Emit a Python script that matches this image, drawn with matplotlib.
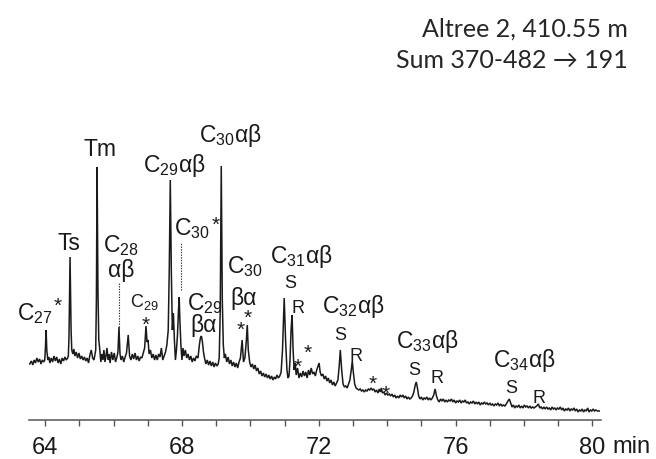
import matplotlib
matplotlib.use("Agg")
import matplotlib.pyplot as plt

plt.rcParams["font.family"] = ["Liberation Sans", "DejaVu Sans"]
plt.rcParams["mathtext.fontset"] = "custom"
plt.rcParams["mathtext.rm"] = "Liberation Sans"
plt.rcParams["mathtext.default"] = "regular"

# m/z 191 trace: retention time (min) and detector response (arbitrary units)
rt = [63.55, 63.60, 63.64, 63.68, 63.72, 63.76, 63.80, 63.84, 63.88, 63.92, 63.96,
      63.99, 64.01, 64.03, 64.05, 64.08, 64.11, 64.14, 64.18, 64.22, 64.26, 64.30,
      64.34, 64.38, 64.42, 64.46, 64.50, 64.54, 64.58, 64.62, 64.66,
      64.68, 64.70, 64.73, 64.76, 64.78, 64.81, 64.84, 64.87, 64.91, 64.95, 64.99,
      65.03, 65.07, 65.11, 65.15, 65.19, 65.23, 65.27, 65.31, 65.35, 65.39, 65.43, 65.46,
      65.48, 65.50, 65.52, 65.545, 65.57, 65.60, 65.63, 65.66, 65.69, 65.72, 65.75,
      65.78, 65.81, 65.84, 65.87, 65.90, 65.94, 65.98, 66.02, 66.06, 66.10,
      66.13, 66.16, 66.19, 66.22, 66.26, 66.30, 66.34, 66.38, 66.43, 66.47, 66.51,
      66.55, 66.59, 66.63, 66.67, 66.71, 66.75, 66.79, 66.83, 66.87, 66.91,
      66.95, 66.98, 67.01, 67.04, 67.08, 67.12, 67.16, 67.20, 67.24, 67.28, 67.32,
      67.36, 67.40, 67.44, 67.48, 67.52, 67.56, 67.60, 67.63,
      67.66, 67.69, 67.72, 67.75, 67.78, 67.81, 67.84, 67.87, 67.90, 67.92, 67.94,
      67.97, 68.00, 68.03, 68.06, 68.10, 68.14, 68.18, 68.22, 68.26, 68.30, 68.34,
      68.38, 68.42, 68.47, 68.51, 68.54, 68.57, 68.60, 68.63, 68.66, 68.70, 68.74,
      68.78, 68.82, 68.86, 68.90, 68.94, 68.98, 69.02, 69.06, 69.09, 69.12,
      69.15, 69.18, 69.21, 69.24, 69.27, 69.31, 69.35, 69.39, 69.43, 69.47, 69.51,
      69.55, 69.59, 69.63, 69.67, 69.71,
      69.76, 69.80, 69.84, 69.88, 69.91, 69.94, 69.98, 70.02, 70.06, 70.10, 70.14,
      70.18, 70.22, 70.26, 70.30, 70.34, 70.38, 70.42, 70.46, 70.50, 70.54, 70.58,
      70.62, 70.66, 70.70, 70.74, 70.78, 70.82, 70.86, 70.90, 70.94,
      70.99, 71.03, 71.07, 71.10, 71.13, 71.16, 71.19, 71.22, 71.25, 71.28, 71.31,
      71.34, 71.38, 71.42, 71.46, 71.50, 71.54, 71.58, 71.62, 71.66, 71.70, 71.74,
      71.78, 71.82, 71.86, 71.90, 71.94, 71.98, 72.01, 72.04, 72.08, 72.12, 72.16,
      72.20, 72.24, 72.28, 72.32, 72.36, 72.40, 72.44, 72.48, 72.52, 72.56, 72.60,
      72.63, 72.67, 72.71, 72.75, 72.79, 72.83, 72.87, 72.91, 72.95, 72.98, 73.01,
      73.05, 73.09, 73.13, 73.17, 73.21, 73.25, 73.29, 73.33, 73.37, 73.41, 73.45,
      73.49, 73.53, 73.57, 73.61, 73.65, 73.69, 73.73, 73.77, 73.80, 73.83, 73.86,
      73.90, 73.94, 73.98, 74.02, 74.06, 74.10, 74.14, 74.18, 74.22, 74.26, 74.30,
      74.34, 74.38, 74.42, 74.46, 74.50, 74.54, 74.58, 74.62, 74.66, 74.70, 74.74,
      74.78, 74.82,
      74.85, 74.88, 74.92, 74.96, 75.00, 75.04, 75.08, 75.12, 75.16, 75.20, 75.24,
      75.28, 75.32, 75.36, 75.40, 75.44, 75.48, 75.52, 75.56, 75.60, 75.64, 75.68,
      75.72, 75.76, 75.80, 75.84, 75.88, 75.92, 75.96, 76.00, 76.04, 76.08, 76.12,
      76.16, 76.20, 76.24, 76.28, 76.32, 76.36, 76.40, 76.44, 76.48, 76.52, 76.56,
      76.60, 76.64, 76.68, 76.72, 76.76, 76.80, 76.84, 76.88, 76.92, 76.96, 77.00,
      77.04, 77.08, 77.12, 77.16, 77.20, 77.24, 77.28, 77.32, 77.36, 77.40, 77.44,
      77.48, 77.53,
      77.57, 77.61, 77.65, 77.69, 77.73, 77.77, 77.81, 77.85, 77.89, 77.93, 77.97,
      78.01, 78.05, 78.09, 78.13, 78.17, 78.21, 78.25, 78.29, 78.33, 78.37, 78.42,
      78.46, 78.50, 78.54, 78.58, 78.62, 78.66, 78.70, 78.74, 78.78, 78.82, 78.86,
      78.90, 78.94, 78.98, 79.02, 79.06, 79.10, 79.14, 79.18, 79.22, 79.26, 79.30,
      79.34, 79.38, 79.42, 79.46, 79.50, 79.54, 79.58, 79.62, 79.66, 79.70, 79.74,
      79.78, 79.82, 79.86, 79.90, 79.94, 79.98, 80.02, 80.06, 80.10, 80.15, 80.20]

signal = [56, 59, 55, 60, 57, 62, 58, 61, 56, 60, 58,
          60, 72, 90, 70, 60, 63, 57, 62, 58, 64, 59,
          63, 57, 61, 56, 62, 59, 63, 60, 62,
          64, 85, 163, 90, 70, 66, 71, 64, 68, 62, 67,
          61, 64, 60, 63, 59, 62, 57, 65, 70, 62, 60, 66,
          70, 120, 253, 130, 80, 70, 58, 66, 60, 70, 58,
          64, 72, 60, 66, 57, 68, 60, 67, 58, 63,
          68, 93, 66, 60, 64, 58, 63, 67, 85, 64, 60,
          66, 61, 67, 60, 64, 59, 63, 62, 67, 72,
          94, 78, 80, 66, 70, 62, 66, 60, 65, 60, 66,
          63, 72, 60, 64, 68, 75, 90, 150,
          240, 150, 90, 107, 80, 60, 70, 85, 110, 123, 100,
          75, 60, 72, 64, 70, 62, 66, 60, 64, 58, 62,
          59, 64, 62, 75, 82, 84, 78, 68, 62, 56, 60,
          55, 59, 54, 58, 53, 57, 54, 56, 62, 110,
          254, 120, 75, 62, 66, 58, 63, 56, 60, 54, 58,
          53, 57, 52, 58, 62,
          80, 58, 62, 78, 95, 70, 58, 53, 56, 51, 55,
          49, 52, 46, 49, 44, 47, 43, 46, 42, 45, 41,
          44, 40, 43, 41, 45, 42, 44, 48, 70,
          122, 80, 50, 42, 44, 60, 90, 105, 70, 50, 57,
          45, 52, 42, 47, 43, 49, 44, 48, 42, 50, 45,
          52, 46, 48, 44, 50, 54, 57, 48, 44, 46, 41,
          44, 39, 42, 37, 40, 35, 38, 34, 37, 40, 55,
          70, 50, 36, 33, 34, 32, 36, 40, 50, 59, 48,
          36, 32, 31, 30, 31, 29, 30, 28, 30, 29, 31,
          30, 32, 30, 31, 28, 30, 27, 31, 28, 32, 27,
          28, 25, 27, 25, 26, 24, 26, 23, 25, 22, 24,
          22, 25, 23, 25, 22, 24, 21, 23, 21, 22, 24,
          28, 35,
          38, 33, 24, 21, 23, 20, 22, 21, 23, 20, 22,
          20, 22, 25, 31, 24, 20, 18, 21, 19, 21, 18,
          20, 18, 20, 19, 21, 18, 20, 17, 19, 18, 20,
          17, 19, 18, 20, 17, 18, 16, 18, 17, 19, 16,
          18, 16, 18, 15, 17, 16, 18, 16, 17, 15, 17,
          15, 16, 14, 16, 15, 17, 14, 16, 14, 15, 14,
          16, 19,
          21, 17, 13, 15, 12, 14, 13, 15, 12, 14, 12,
          15, 13, 14, 12, 14, 12, 13, 12, 13, 14, 16,
          12, 13, 11, 13, 11, 13, 11, 12, 10, 13, 11,
          12, 10, 12, 11, 13, 10, 12, 9, 11, 10, 12,
          9, 11, 10, 12, 9, 11, 8, 10, 9, 11, 8,
          10, 9, 12, 8, 10, 9, 11, 9, 10, 9, 9]

tick_minutes = list(range(64, 81))
labelled_minutes = [64, 68, 72, 76, 80]

W, H = 656, 459
fig = plt.figure(figsize=(W / 100, H / 100), dpi=100)
ax = fig.add_axes([29 / W, 39 / H, 572 / W, 310 / H])
ax.set_xlim(63.53, 80.25)
ax.set_ylim(0, 310)

ax.plot(rt, signal, color="#1a1a1a", lw=1.1, solid_joinstyle="miter")

for s in ("top", "left", "right"):
    ax.spines[s].set_visible(False)
ax.spines["bottom"].set_color("#555555")
ax.spines["bottom"].set_linewidth(1.1)
ax.set_yticks([])
ax.set_xticks(tick_minutes)
ax.set_xticklabels([str(m) if m in labelled_minutes else "" for m in tick_minutes])
ax.tick_params(axis="x", direction="out", length=4, width=1.0, color="#555555",
               labelsize=17, labelcolor="#1a1a1a", pad=8)
fig.text(612 / W, 0.012, "min", fontsize=17, color="#1a1a1a", ha="left", va="baseline")

# Header
hdr = dict(family=["Lato", "DejaVu Sans"], fontsize=18, color="#262626", ha="right", va="center")
fig.text(628 / W, 1 - 29 / H, "Altree 2, 410.55 m", **hdr)
fig.text(628 / W, 1 - 61 / H, "Sum 370-482 \u2192 191", **hdr)

# Peak annotations (left edge, baseline, text, size)
big, mid, small = 16.5, 13, 13
peak_labels = [
    (65.11, 264, "Tm", big),
    (64.35, 170, "Ts", big),
    (63.18, 100, "C$_{27}$", big),
    (65.70, 168, "C$_{28}$", big),
    (65.84, 143, "\u03b1\u03b2", big),
    (66.48, 113, "C$_{29}$", mid),
    (66.87, 248, "C$_{29}$\u03b1\u03b2", big),
    (68.50, 278, "C$_{30}$\u03b1\u03b2", big),
    (67.78, 185, "C$_{30}$", big),
    (68.15, 110, "C$_{29}$", big),
    (68.24, 88, "\u03b2\u03b1", big),
    (69.32, 147, "C$_{30}$", big),
    (69.41, 115, "\u03b2\u03b1", big),
    (70.58, 157, "C$_{31}$\u03b1\u03b2", big),
    (70.98, 132, "S", small),
    (71.19, 107, "R", small),
    (72.10, 107, "C$_{32}$\u03b1\u03b2", big),
    (72.45, 80, "S", small),
    (72.89, 59, "R", small),
    (74.26, 72, "C$_{33}$\u03b1\u03b2", big),
    (74.61, 45, "S", small),
    (75.26, 37, "R", small),
    (77.10, 53, "C$_{34}$\u03b1\u03b2", big),
    (77.45, 27, "S", small),
    (78.24, 17, "R", small),
]
for x, y, txt, size in peak_labels:
    ax.text(x, y, txt, fontsize=size, color="#1a1a1a", ha="left", va="baseline",
            clip_on=False)

# Unidentified compounds (asterisks, centre positions)
stars = [(64.37, 119), (66.95, 100), (68.99, 200), (69.91, 107), (69.73, 95),
         (71.69, 72), (71.37, 58), (73.59, 41), (73.97, 31)]
for x, y in stars:
    ax.text(x, y - 11, "*", fontsize=15, color="#1a1a1a", ha="center", va="baseline",
            clip_on=False)

# Dotted leader lines
leaders = [(66.16, 93, 137), (67.98, 130, 177)]
for x, y0, y1 in leaders:
    ax.plot([x, x], [y0, y1], color="#333333", lw=0.8, ls=(0, (1.2, 1.2)))

fig.savefig("out.png", dpi=100)
